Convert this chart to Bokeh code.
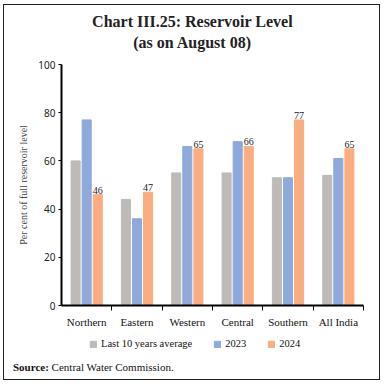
from bokeh.plotting import figure
from bokeh.layouts import column
from bokeh.models import (ColumnDataSource, FixedTicker, Label, Legend, LegendItem, LabelSet, Div)
from bokeh.transform import dodge
from bokeh.embed import file_html
from bokeh.resources import INLINE

regions = ["Northern", "Eastern", "Western", "Central", "Southern", "All India"]
avg10 = [60, 44, 55, 55, 53, 54]
y2023 = [77, 36, 66, 68, 53, 61]
y2024 = [46, 47, 65, 66, 77, 65]
series_names = ["Last 10 years average", "2023", "2024"]
y_ticks = [0, 20, 40, 60, 80, 100]

colors = ["#BEBAB8", "#8EA9DB", "#F9AD80"]
SERIF = "Liberation Serif"
SANS = "Noto Sans"
W = 375


def text_fig(h):
    f = figure(width=W, height=h, x_range=(0, 1), y_range=(0, 1),
               x_axis_location=None, y_axis_location=None,
               output_backend="svg", toolbar_location=None,
               min_border=0, min_border_left=0, min_border_right=0,
               min_border_top=0, min_border_bottom=0)
    f.grid.visible = False
    f.outline_line_color = None
    f.background_fill_color = "white"
    f.border_fill_color = "white"
    return f


# ---- title (frame is aligned with the chart frame: x=0 at page x 61) ----
top = text_fig(51)
for txt, yy in [("Chart III.25: Reservoir Level", 35), ("(as on August 08)", 14)]:
    top.add_layout(Label(x=131, y=yy, x_units="screen", y_units="screen",
                         text=txt, text_align="center",
                         text_baseline="middle", text_font=SERIF, text_font_size="16px",
                         text_font_style="bold", text_color="#222222"))

# ---- main chart ----
xc = [i + 0.5 for i in range(len(regions))]
src = ColumnDataSource(dict(x=xc, avg=avg10, y23=y2023, y24=y2024,
                            lab=[str(v) for v in y2024]))

p = figure(width=W, height=274, x_range=(0, len(regions)), y_range=(0, 100),
           output_backend="svg", toolbar_location=None,
           min_border_left=57, min_border_right=16, min_border_top=8, min_border_bottom=25)
p.outline_line_color = None
p.xgrid.visible = False
p.ygrid.visible = False
p.background_fill_color = "white"
p.border_fill_color = "white"

bw = 0.18
p.vbar(x=dodge("x", -0.22), top="avg", width=bw, source=src, color=colors[0])
p.vbar(x=dodge("x", 0.0), top="y23", width=bw, source=src, color=colors[1])
p.vbar(x=dodge("x", 0.22), top="y24", width=bw, source=src, color=colors[2])

p.add_layout(LabelSet(x=dodge("x", 0.22), y="y24", text="lab", source=src,
                      text_align="center", text_baseline="bottom", y_offset=1,
                      text_font=SANS, text_font_size="10px", text_color="#222222"))

p.xaxis.ticker = FixedTicker(ticks=xc, minor_ticks=[1, 2, 3, 4, 5, 6])
p.xaxis.major_label_overrides = {x: r for x, r in zip(xc, regions)}
p.xaxis.major_tick_out = 0
p.xaxis.major_tick_in = 0
p.xaxis.minor_tick_out = 5
p.xaxis.minor_tick_in = 0
p.xaxis.minor_tick_line_color = "black"
p.xaxis.axis_line_width = 2
p.xaxis.axis_line_color = "black"
p.xaxis.major_label_text_font = SERIF
p.xaxis.major_label_text_font_size = "11px"
p.xaxis.major_label_text_color = "#111111"
p.xaxis.major_label_standoff = 5

p.yaxis.ticker = FixedTicker(ticks=y_ticks)
p.yaxis.minor_tick_line_color = None
p.yaxis.major_tick_out = 3
p.yaxis.major_tick_in = 0
p.yaxis.axis_line_width = 2
p.yaxis.axis_line_color = "black"
p.yaxis.major_label_text_font = SANS
p.yaxis.major_label_text_font_size = "10px"
p.yaxis.major_label_text_color = "#222222"
p.yaxis.major_label_standoff = 3
p.yaxis.axis_label = "Per cent of full reservoir level"
p.yaxis.axis_label_text_font = SERIF
p.yaxis.axis_label_text_font_size = "10px"
p.yaxis.axis_label_text_font_style = "normal"
p.yaxis.axis_label_standoff = 6

# ---- legend ----
bot = text_fig(30)
proxy = ColumnDataSource(dict(x=[0], top=[0]))
rs = [bot.vbar(x="x", top="top", width=0, source=proxy, color=c) for c in colors]
legend = Legend(items=[LegendItem(label=n, renderers=[r]) for n, r in zip(series_names, rs)],
                orientation="horizontal", location=(28, 11),
                border_line_color=None, background_fill_alpha=0,
                label_text_font=SERIF, label_text_font_size="10.5px",
                label_text_color="#111111",
                glyph_width=8, glyph_height=8, label_standoff=4, spacing=21,
                padding=0, margin=0, label_height=8)
bot.add_layout(legend)

# ---- source ----
source_note = Div(text="<b>Source:</b> Central Water Commission.", width=W, height=19,
                  margin=(0, 0, 0, 0),
                  styles={"font-family": "Liberation Serif", "font-size": "11px",
                          "color": "#111111", "padding-left": "9px",
                          "line-height": "14px", "background": "white"})

layout = column(top, p, bot, source_note, spacing=0, margin=(5, 0, 0, 4),
                styles={"outline": "1.2px solid #222222"})

open("out.html", "w").write(file_html(layout, INLINE))
